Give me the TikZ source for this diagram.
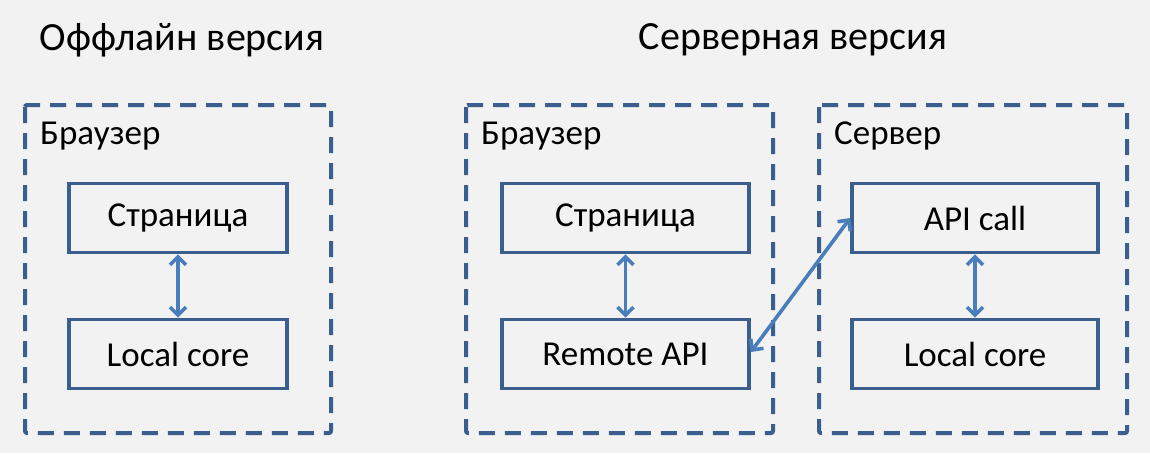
\documentclass[tikz,border=0pt]{standalone}
\usepackage{fontspec}
\setmainfont{Carlito}
\usetikzlibrary{arrows.meta}
\definecolor{bg}{HTML}{F2F2F2}
\definecolor{frame}{HTML}{3A5F8E}
\definecolor{arr}{HTML}{4A7EBB}
\tikzset{
  grp/.style={draw=frame,line width=4pt,dash pattern=on 16pt off 10pt,rounded corners=2pt},
  blk/.style={draw=frame,line width=3.6pt,minimum width=218pt,minimum height=69pt,inner sep=0pt,font=\fontsize{35}{38}\selectfont},
  lbl/.style={anchor=west,inner sep=0pt,font=\fontsize{35}{38}\selectfont},
  ttl/.style={inner sep=0pt,font=\fontsize{40}{44}\selectfont},
  biarr/.style={draw=arr,line width=3.6pt,{Straight Barb[length=8pt,width=16pt,line width=3.6pt]}-{Straight Barb[length=8pt,width=16pt,line width=3.6pt]}}
}
\begin{document}
\begin{tikzpicture}[x=1pt,y=-1pt]
\useasboundingbox[fill=bg] (0,0) rectangle (1150,453);
\node[ttl] (t1) at (182,40) {Оффлайн версия};
\node[ttl] (t2) at (793,40) {Серверная версия};
\draw[grp] (25,105) rectangle (331,433);
\draw[grp] (466,105) rectangle (773,433);
\draw[grp] (819,105) rectangle (1127,433);
\node[lbl] (l1) at (40,136) {Браузер};
\node[lbl] (l2) at (481,136) {Браузер};
\node[lbl] (l3) at (834,136) {Сервер};
\node[blk] (p1) at (178,218) {Страница};
\node[blk] (c1) at (178,354) {Local core};
\node[blk,minimum width=247pt] (p2) at (625.5,218) {Страница};
\node[blk,minimum width=247pt] (r2) at (625.5,354) {Remote API};
\node[blk,minimum width=246pt] (a3) at (975,218) {API call};
\node[blk,minimum width=246pt] (c3) at (975,354) {Local core};
\draw[biarr] (p1) -- (c1);
\draw[biarr] (p2) -- (r2);
\draw[biarr] (a3) -- (c3);
\draw[biarr] (r2.east |- 0,352) -- (a3.west |- 0,218);
\end{tikzpicture}
\end{document}
